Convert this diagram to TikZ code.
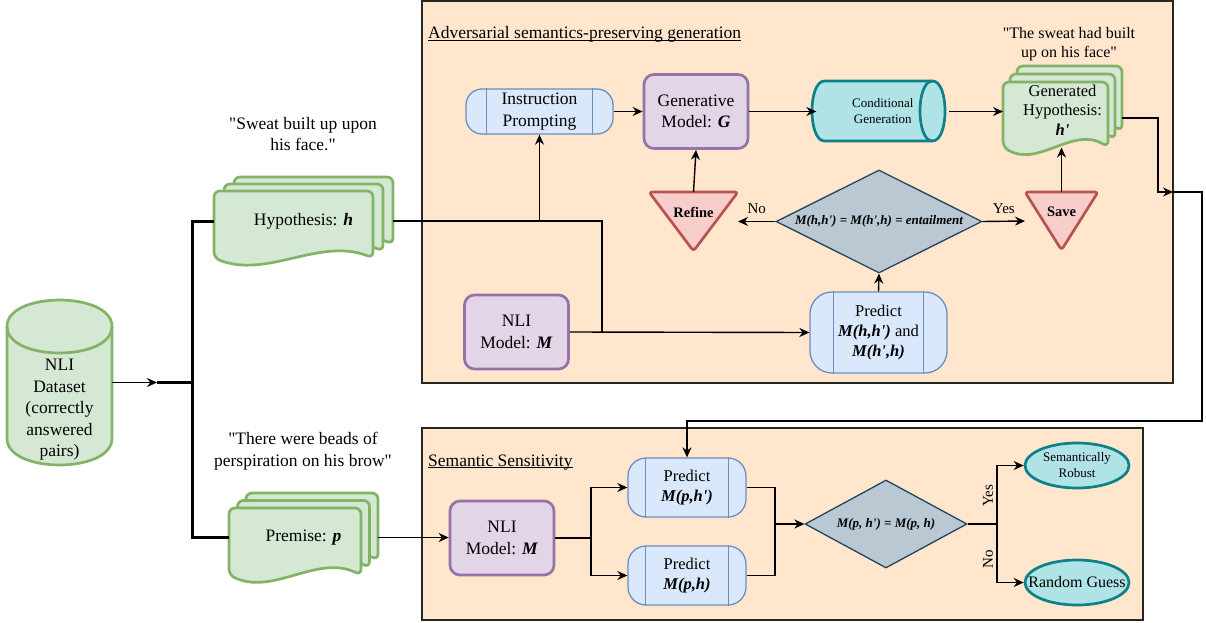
\documentclass[tikz,border=0pt]{standalone}
\usepackage{fontspec}
\setmainfont{Liberation Serif}[Ligatures=TeXOff]
\usepackage{xcolor}
\usepackage{tikz}
\usetikzlibrary{calc, arrows.meta, shapes.geometric, positioning}

\definecolor{docfill}{HTML}{D5E8D4}
\definecolor{docline}{HTML}{82B366}
\definecolor{modelfill}{HTML}{E1D5E7}
\definecolor{modelline}{HTML}{9673A6}
\definecolor{procfill}{HTML}{DAE8FC}
\definecolor{procline}{HTML}{6C8EBF}
\definecolor{trifill}{HTML}{F8CECC}
\definecolor{triline}{HTML}{B85450}
\definecolor{cylfill}{HTML}{B0E3E6}
\definecolor{cylline}{HTML}{0E8088}
\definecolor{decfill}{HTML}{BAC8D3}
\definecolor{decline}{HTML}{23445D}
\definecolor{panelfill}{HTML}{FFE6CC}

\newcommand{\mainfs}{\fontsize{17.5}{21.5}\selectfont}
\newcommand{\predfs}{\fontsize{16.5}{20}\selectfont}
\newcommand{\smallfs}{\fontsize{13}{16}\selectfont}
\newcommand{\labelfs}{\fontsize{15}{18}\selectfont}
\newcommand{\bi}[1]{\textbf{\textit{#1}}}
\newcommand{\undertitle}[1]{\underline{\smash{#1}}}

% one sheet of a stacked document: left, top, right, bottom
\newcommand{\docsheet}[4]{%
  \pgfmathsetmacro{\docL}{#1}\pgfmathsetmacro{\docT}{#2}%
  \pgfmathsetmacro{\docR}{#3}\pgfmathsetmacro{\docB}{#4}%
  \pgfmathsetmacro{\docW}{(\docR-\docL)/3}%
  \filldraw[sheet] (\docL,\docB-20) -- (\docL,\docT) -- (\docR,\docT) -- (\docR,\docB-6)
    .. controls (\docR-\docW,\docB-27) and (\docL+\docW,\docB+15) .. (\docL,\docB-6) -- cycle;
}
% three sheets: left, top, right, bottom, x offset, y offset
\newcommand{\multidoc}[6]{%
  \docsheet{#1+2*#5}{#2}{#3}{#4-2*#6}
  \docsheet{#1+#5}{#2+#6}{#3-#5}{#4-#6}
  \docsheet{#1}{#2+2*#6}{#3-2*#5}{#4}
}
% the two inner bars of a process box
\newcommand{\procbars}[2]{%
  \draw[procline, line width=1.3pt] ([xshift=#2]#1.north west) -- ([xshift=#2]#1.south west);
  \draw[procline, line width=1.3pt] ([xshift=-#2]#1.north east) -- ([xshift=-#2]#1.south east);
}

\begin{document}
\begin{tikzpicture}[x=1pt, y=-1pt, >={Stealth[length=10pt, width=9pt]}]
    % Block styles
    \tikzstyle{panel} = [rectangle, draw=black!85, line width=1.5pt, fill=panelfill, inner sep=0, outer sep=0]
    \tikzstyle{model} = [rectangle, rounded corners=10pt, draw=modelline, fill=modelfill, line width=2.7pt, align=center, font=\mainfs, minimum width=104pt, minimum height=74pt, inner sep=0]
    \tikzstyle{proc} = [rectangle, draw=procline, fill=procfill, line width=1.3pt, align=center, inner sep=0]
    \tikzstyle{decision} = [diamond, draw=decline, fill=decfill, line width=1.3pt, inner sep=0, font=\smallfs\bfseries\itshape]
    \tikzstyle{outcome} = [ellipse, draw=cylline, fill=cylfill, line width=2.7pt, inner sep=0, minimum width=104pt, minimum height=45pt, align=center]
    \tikzstyle{hidden} = [rectangle, inner sep=0, outer sep=0, align=center]
    \tikzstyle{saying} = [align=center, font=\mainfs, inner sep=0]
    \tikzstyle{sheet} = [draw=docline, fill=docfill, line width=2.7pt, rounded corners=6pt]
    \tikzstyle{drum} = [line width=2.7pt, line join=round]
    \tikzstyle{tri} = [draw=triline, fill=trifill, line width=2.7pt, rounded corners=3pt, line join=round]
    \tikzstyle{conn} = [draw, line width=1.4pt]
    \tikzstyle{thick_conn} = [draw, line width=3pt]

    \useasboundingbox (0,0) rectangle (1206,623);

    % Panels
    \node[panel, minimum width=751pt, minimum height=382pt] (advbox) at (797.5,192) {};
    \node[panel, minimum width=721pt, minimum height=192pt] (sensbox) at (782.5,524) {};
    \node[anchor=base west, font=\mainfs, inner sep=0] (advtitle) at (428,39) {\undertitle{Adversarial semantics-preserving generation}};
    \node[anchor=base west, font=\mainfs, inner sep=0] (senstitle) at (428,466) {\undertitle{Semantic Sensitivity}};

    % Shapes drawn by hand
    \filldraw[drum, draw=docline, fill=docfill] (7,326.5) -- (7,438.5) .. controls (7,473.8) and (112,473.8) .. (112,438.5)
        -- (112,326.5) .. controls (112,291.2) and (7,291.2) .. (7,326.5) -- cycle;
    \draw[drum, draw=docline] (7,326.5) .. controls (7,361.8) and (112,361.8) .. (112,326.5);
    \filldraw[drum, draw=cylline, fill=cylfill] (824.5,81) -- (932.5,81) .. controls (949.2,81) and (949.2,141) .. (932.5,141)
        -- (824.5,141) .. controls (807.8,141) and (807.8,81) .. (824.5,81) -- cycle;
    \draw[drum, draw=cylline] (932.5,81) .. controls (915.8,81) and (915.8,141) .. (932.5,141);
    \multidoc{214}{177}{393}{264}{10}{7}
    \multidoc{229}{493}{378}{581}{8.5}{7.5}
    \multidoc{1003}{66}{1122}{153}{7}{8}

    % Input and documents
    \node[hidden, minimum width=105pt, minimum height=165pt] (data) at (59.5,382.5) {};
    \node[hidden, font=\mainfs] (datatext) at (59.5,410) {NLI\\Dataset\\(correctly\\answered\\pairs)};
    \node[hidden, minimum width=179pt, minimum height=87pt, font=\mainfs] (hyp) at (303.5,221) {Hypothesis: \bi{h}};
    \node[hidden, minimum width=149pt, minimum height=88pt, font=\mainfs] (prem) at (303.5,537.5) {Premise: \bi{p}};
    \node[hidden, minimum width=119pt, minimum height=87pt, font=\fontsize{16.5}{19.5}\selectfont] (gendoc) at (1062.5,110) {Generated\\Hypothesis:\\\bi{h'}};
    \node[saying] (hypquote) at (303,134) {"Sweat built up upon\\his face."};
    \node[saying] (premquote) at (303,451) {"There were beads of\\perspiration on his brow"};
    \node[saying, font=\fontsize{16}{19}\selectfont] (genquote) at (1069,44) {"The sweat had built\\up on his face"};

    % Generation loop
    \node[proc, rounded corners=16pt, minimum width=147pt, minimum height=45pt, font=\mainfs] (instr) at (539.5,111.5) {Instruction\\Prompting};
    \node[model, right=29pt of instr] (genmodel) {Generative\\Model: \bi{G}};
    \node[hidden, right=67pt of genmodel, minimum width=133pt, minimum height=60pt, font=\smallfs] (condgen) {Conditional\\Generation};
    \node[model] (nlitop) at (516.5,332) {NLI\\Model: \bi{M}};
    \node[proc, rounded corners=22pt, minimum width=137pt, minimum height=81pt, font=\predfs] (predtop) at (878.5,332.5) {Predict\\\bi{M(h,h')} and\\\bi{M(h',h)}};
    \node[decision, minimum width=206pt, minimum height=103pt, aspect=2] (cmptop) at (879,221.5) {M(h,h') = M(h',h) = entailment};
    \node[hidden, minimum width=89pt, minimum height=59pt] (refine) at (693.5,221.5) {};
    \filldraw[tri] (refine.north west) -- (refine.north east) -- (refine.south) -- cycle;
    \node[font=\fontsize{14.5}{17}\selectfont\bfseries] (refinetext) at ([yshift=9.5pt]refine.center) {Refine};
    \node[hidden, minimum width=73pt, minimum height=58pt] (save) at (1061.5,221) {};
    \filldraw[tri] (save.north west) -- (save.north east) -- (save.south) -- cycle;
    \node[font=\fontsize{14.5}{17}\selectfont\bfseries] (savetext) at ([yshift=9pt]save.center) {Save};
    \procbars{instr}{21pt}
    \procbars{predtop}{24pt}

    % Sensitivity check
    \node[model] (nlibot) at (502,538) {NLI\\Model: \bi{M}};
    \node[proc, rounded corners=18pt, minimum width=118pt, minimum height=59pt, font=\predfs] (predph) at (687,487.5) {Predict\\\bi{M(p,h')}};
    \node[proc, rounded corners=18pt, minimum width=118pt, minimum height=59pt, font=\predfs] (predp) at (687,575.5) {Predict\\\bi{M(p,h)}};
    \procbars{predph}{18pt}
    \procbars{predp}{18pt}
    \node[decision, minimum width=162pt, minimum height=88pt, aspect=1.84] (cmpbot) at (886,524) {M(p, h') = M(p, h)};
    \node[outcome, font=\smallfs] (robust) at (1077,465.5) {Semantically\\Robust};
    \node[outcome, font=\fontsize{16}{19}\selectfont] (guess) at (1077,582.5) {\makebox[0pt]{Random Guess}};

    % Connections
    \coordinate (fork) at (192,382.5);
    \draw[conn, ->] (data.east) -- ([xshift=-35pt]fork);
    \draw[thick_conn] ([xshift=-35pt]fork) -- (fork);
    \draw[thick_conn] (hyp.west) -| (fork) |- (prem.west);

    \coordinate (hypjoin) at (602,332);
    \draw[conn, ->] (hyp.east) -| (instr.south);
    \draw[conn] (hyp.east) -| (hypjoin);
    \draw[conn, ->] (nlitop.east) -- (predtop.west);
    \draw[conn, ->] (instr) -- (genmodel);
    \draw[conn, ->] (genmodel) -- (condgen);
    \draw[conn, ->] (condgen.east) -- (condgen.east -| gendoc.west);
    \draw[conn, ->] (refine.north) -- (genmodel.south);
    \draw[conn, ->] (cmptop.west) -- (refine.east) node[midway, yshift=12.5pt, font=\labelfs] {No};
    \draw[conn, ->] (cmptop.east) -- (save.west) node[midway, yshift=12.5pt, font=\labelfs] {Yes};
    \draw[conn, ->] (predtop.north) -- (cmptop.south);
    \draw[conn, ->] (save.north) -- ($(save.north |- gendoc.south)+(0,-6)$);

    \coordinate (exitpt) at (1173,192);
    \coordinate (loopturn) at (1202,421);
    \draw[conn, ->] ($(gendoc.east)+(0,8)$) -- ++(36,0) |- (exitpt);
    \draw[conn, ->] (exitpt) -| (loopturn) -| (predph.north);

    \draw[conn, ->] (prem.east) -- (prem.east -| nlibot.west);
    \coordinate (splitb) at (591,538);
    \draw[conn, ->] (nlibot.east) -- (splitb) |- (predph.west);
    \draw[conn, ->] (splitb) |- (predp.west);
    \coordinate (mergeb) at (775,524);
    \draw[conn] (predph.east) -| (mergeb);
    \draw[conn] (predp.east) -| (mergeb);
    \draw[conn, ->] (mergeb) -- (cmpbot.west);
    \coordinate (branchb) at (997,524);
    \draw[conn] (cmpbot.east) -- (branchb);
    \draw[conn, ->] (branchb) |- (robust.west) node[pos=0.24, rotate=90, above, font=\labelfs] {Yes};
    \draw[conn, ->] (branchb) |- (guess.west) node[pos=0.3, rotate=90, above, font=\labelfs] {No};
\end{tikzpicture}
\end{document}
